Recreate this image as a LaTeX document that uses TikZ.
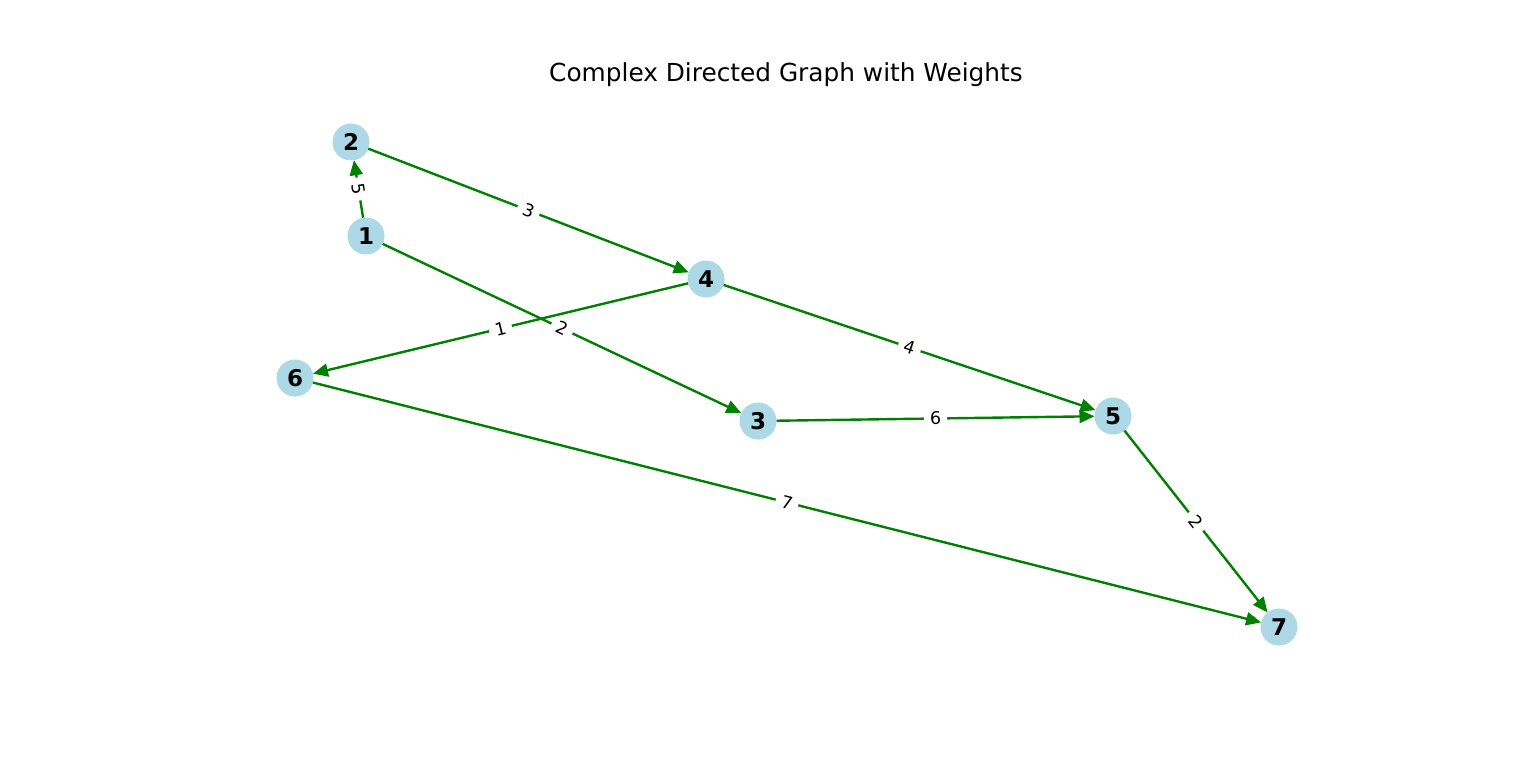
\documentclass[tikz,border=0pt]{standalone}
\usepackage{fontspec}
\setmainfont{DejaVu Sans}
\usetikzlibrary{arrows.meta}
\definecolor{nodeblue}{RGB}{173,216,230}
\definecolor{edgegreen}{RGB}{0,128,0}
\begin{document}
\begin{tikzpicture}[x=1pt,y=-1pt,
  vertex/.style={circle,fill=nodeblue,minimum size=37pt,inner sep=0pt,outer sep=0pt,
    font=\fontsize{23}{24}\selectfont\bfseries},
  wedge/.style={draw=edgegreen,line width=2.4pt,-{Triangle[length=15pt,width=13pt]}},
  wlabel/.style={midway,sloped,fill=white,inner xsep=6pt,inner ysep=3pt,
    font=\fontsize{17.5}{19}\selectfont}]
  \useasboundingbox (0,0) rectangle (1536,762);
  \node (title) at (786,75) {\fontsize{24.8}{28}\selectfont Complex Directed Graph with Weights};

  \node[vertex] (n1) at (366,236) {1};
  \node[vertex] (n2) at (351,142) {2};
  \node[vertex] (n3) at (758,421) {3};
  \node[vertex] (n4) at (706,279) {4};
  \node[vertex] (n5) at (1113,416) {5};
  \node[vertex] (n6) at (295,378) {6};
  \node[vertex] (n7) at (1279,627) {7};

  \draw[wedge] (n1) -- node[wlabel] {5} (n2);
  \draw[wedge] (n2) -- node[wlabel] {3} (n4);
  \draw[wedge] (n1) -- node[wlabel] {2} (n3);
  \draw[wedge] (n4) -- node[wlabel] {1} (n6);
  \draw[wedge] (n4) -- node[wlabel] {4} (n5);
  \draw[wedge] (n3) -- node[wlabel] {6} (n5);
  \draw[wedge] (n6) -- node[wlabel] {7} (n7);
  \draw[wedge] (n5) -- node[wlabel] {2} (n7);
\end{tikzpicture}
\end{document}
